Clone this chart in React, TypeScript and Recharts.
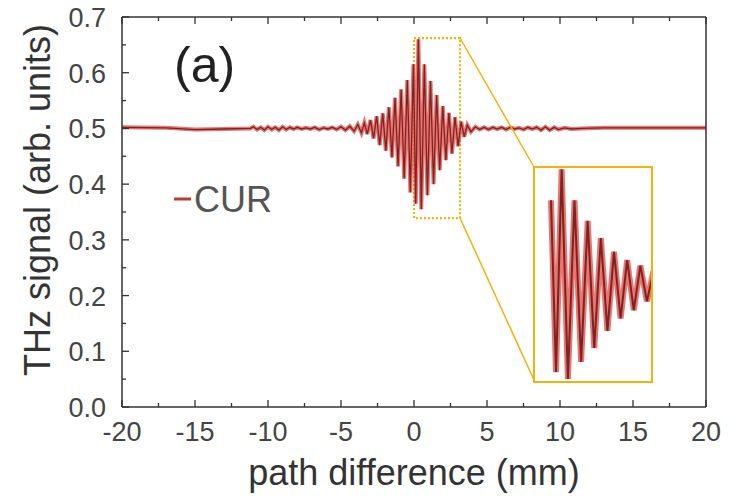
import React from 'react';
import { LineChart, Line, XAxis, YAxis, ReferenceArea } from 'recharts';

const pathMm = [
  -20, -17, -15, -13, -11.2, -11.0, -10.75, -10.5, -10.25, -10.0, -9.75, -9.5, -9.25, -9.0, -8.75,
  -8.5, -8.25, -8.0, -7.7, -7.4, -7.1, -6.8, -6.5, -6.2, -5.9, -5.6, -5.3, -5.0, -4.7, -4.4, -4.1,
  -3.85, -3.6, -3.4, -3.2, -2.98, -2.77, -2.56, -2.35, -2.14, -1.93, -1.72, -1.51, -1.3, -1.09,
  -0.88, -0.67, -0.46, -0.25, -0.04, 0.12, 0.3, 0.5, 0.71, 0.92, 1.13, 1.34, 1.55, 1.76, 1.97,
  2.18, 2.39, 2.6, 2.81, 3.02, 3.23, 3.44, 3.65, 3.9, 4.2, 4.5, 4.8, 5.1, 5.4, 5.7, 6.0, 6.3,
  6.6, 6.9, 7.2, 7.5, 7.8, 8.1, 8.4, 8.7, 9.0, 9.3, 9.6, 9.9, 10.3, 10.8, 11.5, 13, 16, 20,
];
const curSignal = [
  0.502, 0.501, 0.498, 0.499, 0.5, 0.503, 0.498, 0.502, 0.497, 0.503, 0.498, 0.502, 0.497, 0.503, 0.498,
  0.502, 0.499, 0.502, 0.499, 0.501, 0.499, 0.502, 0.498, 0.501, 0.499, 0.502, 0.498, 0.503, 0.497, 0.504, 0.495,
  0.507, 0.492, 0.51, 0.49, 0.515, 0.482, 0.522, 0.47, 0.527, 0.46, 0.538, 0.448, 0.555, 0.432,
  0.57, 0.41, 0.587, 0.385, 0.615, 0.365, 0.66, 0.355, 0.615, 0.38, 0.585, 0.4, 0.56, 0.425, 0.54,
  0.443, 0.528, 0.455, 0.52, 0.468, 0.512, 0.485, 0.506, 0.494, 0.503, 0.498, 0.502, 0.498, 0.502, 0.499, 0.502,
  0.498, 0.502, 0.499, 0.501, 0.498, 0.502, 0.499, 0.502, 0.497, 0.503, 0.497, 0.502, 0.498, 0.501, 0.499, 0.5, 0.501, 0.501, 0.501,
];
const xTicks = [-20, -17.5, -15, -12.5, -10, -7.5, -5, -2.5, 0, 2.5, 5, 7.5, 10, 12.5, 15, 17.5, 20];
const yTicks = [0, 0.05, 0.1, 0.15, 0.2, 0.25, 0.3, 0.35, 0.4, 0.45, 0.5, 0.55, 0.6, 0.65, 0.7];

const data = pathMm.map((x, i) => ({ x, cur: curSignal[i] }));
const insetData = data.filter(d => d.x >= -0.04 && d.x <= 3.3);

const FONT = '"Liberation Sans", Arial, sans-serif';
const AXIS = '#333';
const TXT = '#444';
const GOLD = '#f4b30c';

const isMajorX = (v: number) => v % 5 === 0;
const isMajorY = (v: number) => Math.round(v * 100) % 10 === 0;

const BottomTick = (props: any) => {
  const { x, y, payload } = props;
  const major = isMajorX(payload.value);
  return (
    <g>
      <line x1={x} x2={x} y1={y} y2={y - (major ? 7 : 4)} stroke={AXIS} strokeWidth={1.3} />
      {major && (
        <text x={x} y={y + 34} textAnchor="middle" fontSize={27} fill={TXT} fontFamily={FONT}>
          {payload.value}
        </text>
      )}
    </g>
  );
};

const TopTick = (props: any) => {
  const { x, y, payload } = props;
  const major = isMajorX(payload.value);
  return <line x1={x} x2={x} y1={y} y2={y + (major ? 7 : 4)} stroke={AXIS} strokeWidth={1.3} />;
};

const LeftTick = (props: any) => {
  const { x, y, payload } = props;
  const major = isMajorY(payload.value);
  return (
    <g>
      <line x1={x} x2={x + (major ? 7 : 4)} y1={y} y2={y} stroke={AXIS} strokeWidth={1.3} />
      {major && (
        <text x={x - 16} y={y + 10} textAnchor="end" fontSize={27} fill={TXT} fontFamily={FONT}>
          {payload.value.toFixed(1)}
        </text>
      )}
    </g>
  );
};

const RightTick = (props: any) => {
  const { x, y, payload } = props;
  const major = isMajorY(payload.value);
  return <line x1={x} x2={x - (major ? 7 : 4)} y1={y} y2={y} stroke={AXIS} strokeWidth={1.3} />;
};

export default function App() {
  return (
    <div style={{ position: 'absolute', left: 0, top: 0, width: 738, height: 496, background: '#fff', fontFamily: FONT }}>
      <LineChart width={738} height={496} data={data} margin={{ top: 16, right: 31, bottom: 49, left: 62 }}>
        <XAxis
          dataKey="x"
          type="number"
          domain={[-20, 20]}
          ticks={xTicks}
          interval={0}
          tickSize={0}
          tickMargin={0}
          tickLine={false}
          tick={<BottomTick />}
          height={40}
          stroke={AXIS}
          strokeWidth={1.5}
          allowDataOverflow
        />
        <XAxis
          xAxisId="top"
          orientation="top"
          dataKey="x"
          type="number"
          domain={[-20, 20]}
          ticks={xTicks}
          interval={0}
          tickSize={0}
          tickMargin={0}
          tickLine={false}
          tick={<TopTick />}
          height={1}
          stroke={AXIS}
          strokeWidth={1.5}
        />
        <YAxis
          type="number"
          domain={[0, 0.7]}
          ticks={yTicks}
          interval={0}
          tickSize={0}
          tickMargin={0}
          tickLine={false}
          tick={<LeftTick />}
          width={60}
          stroke={AXIS}
          strokeWidth={1.5}
          allowDataOverflow
        />
        <YAxis
          yAxisId="right"
          orientation="right"
          type="number"
          domain={[0, 0.7]}
          ticks={yTicks}
          interval={0}
          tickSize={0}
          tickMargin={0}
          tickLine={false}
          tick={<RightTick />}
          width={1}
          stroke={AXIS}
          strokeWidth={1.5}
        />
        <ReferenceArea
          x1={0}
          x2={3.15}
          y1={0.339}
          y2={0.662}
          fill="none"
          stroke={GOLD}
          strokeWidth={2.2}
          strokeDasharray="2 2"
          ifOverflow="visible"
        />
        <Line dataKey="cur" type="linear" stroke="#e5463f" strokeOpacity={0.75} strokeWidth={4} dot={false} isAnimationActive={false} />
        <Line dataKey="cur" type="linear" stroke="#7a2424" strokeWidth={1.3} dot={false} isAnimationActive={false} />
      </LineChart>

      <svg width={738} height={496} style={{ position: 'absolute', left: 0, top: 0, pointerEvents: 'none' }}>
        <line x1={460} y1={38} x2={534} y2={167} stroke={GOLD} strokeWidth={1.5} />
        <line x1={460} y1={218} x2={534} y2={380} stroke={GOLD} strokeWidth={1.5} />
        <text x={174} y={82} fontSize={50} fill="#222" fontFamily={FONT}>(a)</text>
        <line x1={174} x2={191} y1={199} y2={199} stroke="#c0393b" strokeWidth={3} />
        <text x={194} y={212} fontSize={36} fill="#555" fontFamily={FONT}>CUR</text>
        <text
          x={0}
          y={0}
          transform="translate(50, 200) rotate(-90)"
          textAnchor="middle"
          fontSize={36}
          fill="#333"
          fontFamily={FONT}
        >
          THz signal (arb. units)
        </text>
        <text x={414} y={485} textAnchor="middle" fontSize={36} fill="#333" fontFamily={FONT}>
          path difference (mm)
        </text>
      </svg>

      <div
        style={{
          position: 'absolute',
          left: 533,
          top: 166,
          width: 116,
          height: 213,
          border: `2.5px solid ${GOLD}`,
          background: '#fff',
        }}
      >
        <LineChart width={116} height={213} data={insetData} margin={{ top: 0, right: 0, bottom: 0, left: 0 }}>
          <XAxis dataKey="x" type="number" domain={[-0.55, 3.15]} hide allowDataOverflow />
          <YAxis type="number" domain={[0.352, 0.662]} hide allowDataOverflow />
          <Line dataKey="cur" type="linear" stroke="#e5463f" strokeOpacity={0.75} strokeWidth={6} dot={false} isAnimationActive={false} />
          <Line dataKey="cur" type="linear" stroke="#7a2424" strokeWidth={2} dot={false} isAnimationActive={false} />
        </LineChart>
      </div>
    </div>
  );
}
